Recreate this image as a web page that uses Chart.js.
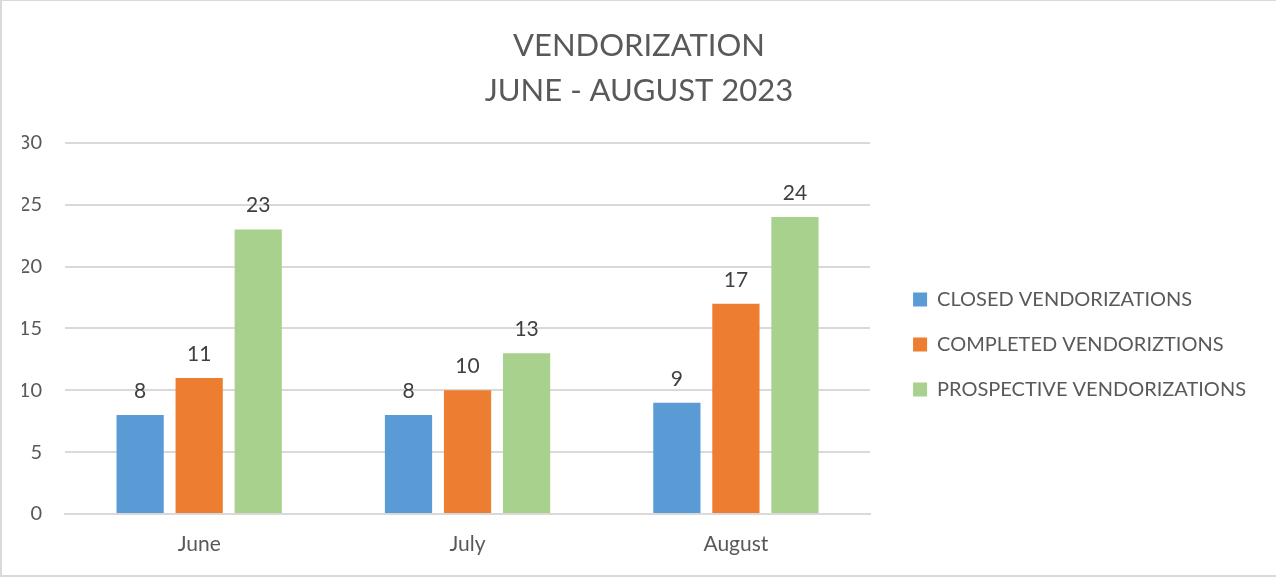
<!DOCTYPE html>
<html>
<head>
<meta charset="utf-8">
<script src="https://cdn.jsdelivr.net/npm/chart.js@4.4.0/dist/chart.umd.min.js"></script>
<style>
    html, body { margin: 0; padding: 0; background: #fff; }
    #wrap {
        position: relative;
        width: 1276px;
        height: 577px;
        box-sizing: border-box;
        border-top: 1px solid #d9d9d9;
        border-left: 2px solid #d9d9d9;
        border-bottom: 2px solid #d9d9d9;
    }
</style>
</head>
<body>
<div id="wrap"><canvas id="chart"></canvas></div>
<script>
const months = ['June', 'July', 'August'];
const closedVendorizations = [8, 8, 9];
const completedVendoriztions = [11, 10, 17];
const prospectiveVendorizations = [23, 13, 24];
const titleLines = ['VENDORIZATION', 'JUNE - AUGUST 2023'];

const FONT = 'Lato, "Open Sans", sans-serif';

// 柱顶数值标签
const valueLabels = {
    id: 'valueLabels',
    afterDatasetsDraw(chart) {
        const ctx = chart.ctx;
        ctx.save();
        ctx.font = `21px ${FONT}`;
        ctx.fillStyle = '#404040';
        ctx.textAlign = 'center';
        ctx.textBaseline = 'alphabetic';
        chart.data.datasets.forEach((ds, i) => {
            chart.getDatasetMeta(i).data.forEach((bar, j) => {
                ctx.fillText(ds.data[j], bar.x, bar.y - 17);
            });
        });
        ctx.restore();
    }
};

new Chart(document.getElementById('chart').getContext('2d'), {
    type: 'bar',
    data: {
        labels: months,
        datasets: [
            { label: 'CLOSED VENDORIZATIONS', data: closedVendorizations, backgroundColor: '#5B9BD5' },
            { label: 'COMPLETED VENDORIZTIONS', data: completedVendoriztions, backgroundColor: '#ED7D31' },
            { label: 'PROSPECTIVE VENDORIZATIONS', data: prospectiveVendorizations, backgroundColor: '#A9D18E' }
        ]
    },
    options: {
        responsive: true,
        maintainAspectRatio: false,
        animation: false,
        categoryPercentage: 0.66,
        barPercentage: 0.8,
        layout: { padding: { top: 23, right: 20, bottom: 0, left: 20 } },
        plugins: {
            title: {
                display: true,
                text: titleLines,
                color: '#595959',
                font: { family: FONT, size: 31, weight: 'normal', lineHeight: 1.45 },
                padding: { top: 0, bottom: 29 }
            },
            legend: {
                display: true,
                position: 'right',
                maxWidth: 600,
                // 空标题只用来把图例往下推
                title: {
                    display: true,
                    text: '',
                    font: { size: 10, lineHeight: 1 },
                    padding: { top: 0, bottom: 80 }
                },
                labels: {
                    color: '#595959',
                    font: { family: FONT, size: 20 },
                    boxWidth: 14,
                    boxHeight: 14,
                    padding: 25
                }
            },
            tooltip: { enabled: false }
        },
        scales: {
            x: {
                grid: { display: false, drawTicks: false },
                border: { color: '#d9d9d9', width: 2 },
                ticks: { color: '#595959', font: { family: FONT, size: 21 }, padding: 18 },
                afterFit: (scale) => { scale.height = 61; }
            },
            y: {
                min: 0,
                max: 30,
                ticks: { stepSize: 5, color: '#595959', font: { family: FONT, size: 20 }, padding: 23 },
                grid: { color: '#d9d9d9', lineWidth: 2, drawTicks: false },
                border: { display: false },
                afterFit: (scale) => { scale.width = 43; }
            },
            // 右侧留白，让图例与绘图区分开
            gap: {
                position: 'right',
                display: true,
                grid: { display: false },
                ticks: { display: false },
                border: { display: false },
                afterFit: (scale) => { scale.width = 18; }
            }
        }
    },
    plugins: [valueLabels]
});
</script>
</body>
</html>
